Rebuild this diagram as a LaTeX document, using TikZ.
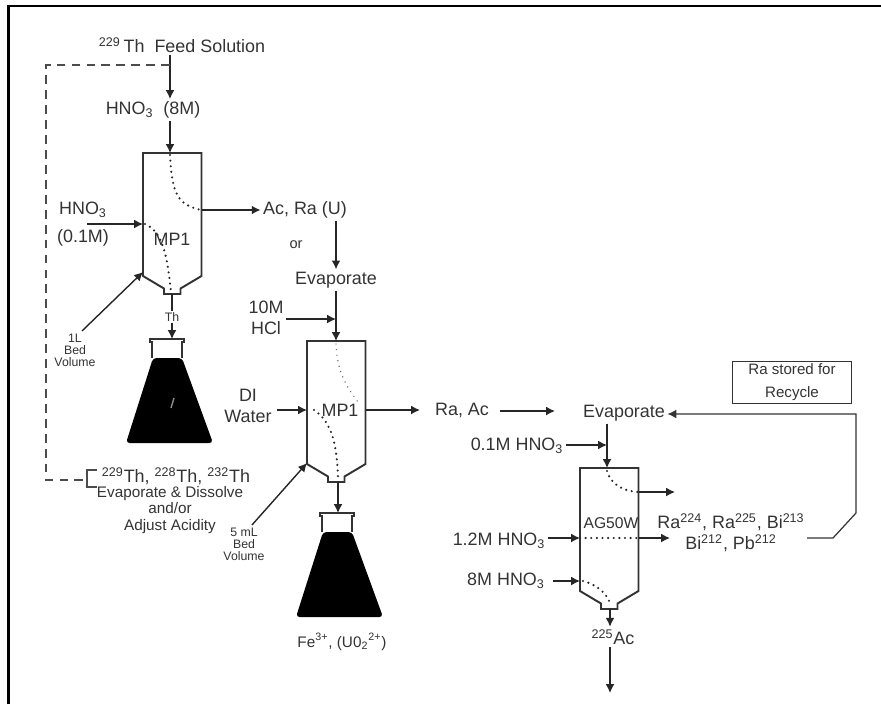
\documentclass[tikz,border=0pt]{standalone}
\usepackage{fontspec}
\setmainfont{Liberation Sans}
\usetikzlibrary{arrows.meta}
\tikzset{
  flow/.style={line width=0.8pt, draw=black!85, -{Latex[length=5pt,width=5pt]}},
  wall/.style={line width=1.1pt, draw=black!80},
  trace/.style={line width=1.35pt, line cap=round, dash pattern=on 0pt off 3.2pt, draw=black!85},
  lighttrace/.style={trace, line width=0.8pt, draw=black!65},
  return/.style={line width=0.7pt, draw=black!80},
  recycle/.style={line width=0.6pt, draw=black!70, dash pattern=on 5pt off 3.5pt},
  lbl/.style={inner sep=0pt, outer sep=1.5pt, text=black!80, align=center, font=\fontsize{10.2}{11}\selectfont},
  lblmid/.style={lbl, font=\fontsize{8.7}{9}\selectfont},
  lblsmall/.style={lbl, font=\fontsize{7}{6.9}\selectfont},
}
\begin{document}
\begin{tikzpicture}[x=0.02cm, y=-0.02cm]
  \useasboundingbox (0,0) rectangle (881,704);
  \draw[line width=1.7pt] (8.5,704) -- (8.5,6) -- (881,6);
  \foreach \n/\x/\y/\t/\b/\s in {A/143/153/27/29/119, B/307/341/29/31/122, C/580/468/27/30/119} {
    \draw[wall] (\x,\y) -- ++(58.5,0) -- ++(0,123) -- ++(-21,12.5) -- ++(0,5.5) -- ++(-16.5,0)
      -- ++(0,-5.5) -- ++(-21,-12.5) -- cycle;
    \coordinate (top\n) at ({\x+\t},\y);
    \coordinate (neck\n) at ({\x+\b},{\y+141});
    \coordinate (shoulder\n) at (\x,{\y+\s});
  }
  \foreach \n/\x/\y in {A/167/339, B/337/513} {
    \fill[black, rounded corners=2pt] ({\x-14},{\y+19}) -- ({\x+15},{\y+19}) -- ({\x+46},{\y+104})
      -- ({\x-41},{\y+104}) -- cycle;
    \draw[line width=0.7pt, draw=black!80] ({\x-15},{\y+19}) -- ({\x-15},{\y+3}) -- ({\x-17},{\y+3})
      -- ({\x-17},\y) -- ({\x+17},\y) -- ({\x+17},{\y+3}) -- ({\x+15},{\y+3}) -- ({\x+15},{\y+19});
    \coordinate (mouth\n) at (\x,\y);
  }
  \draw[line width=0.8pt, draw=black!45] (171,408) -- (174,398);

  \node[lbl] (feed) at (182,45) {\textsuperscript{229}\,Th\ \ Feed Solution};
  \node[lbl] (acid8) at (153,110) {HNO\textsubscript{3}\ \ (8M)};
  \node[lbl] (acid01) at (83,224) {HNO\textsubscript{3}\\[4.5pt](0.1M)};
  \node[lbl] (mpA) at (172,239) {MP1};
  \node[lbl] (acra) at (305,210) {Ac, Ra (U)};
  \node[lbl, font=\fontsize{8.3}{9}\selectfont] (orlabel) at (296,245) {or};
  \node[lbl] (evapA) at (336,280) {Evaporate};
  \node[lbl] (hcl) at (266,318) {10M\\[1pt]HCl};
  \node[lblsmall] (bedA) at (75,350) {1L\\Bed\\Volume};
  \node[lblsmall, fill=white, outer sep=0pt, inner sep=1pt] (thlabel) at (172,317) {Th};
  \node[lbl] (isotopes) at (176,476.5) {\textsuperscript{229}Th, \textsuperscript{228}Th, \textsuperscript{232}Th};
  \node[lblmid] (redo) at (170,510) {Evaporate \& Dissolve\\[0.5pt]and/or\\[0.5pt]Adjust Acidity};
  \node[lbl] (diwater) at (248,406) {DI\\[1pt]Water};
  \node[lbl] (mpB) at (340,410) {MP1};
  \node[lblsmall] (bedB) at (244,544) {5 mL\\Bed\\Volume};
  \node[lblmid] (iron) at (342,642) {Fe\textsuperscript{3+}, (U0\textsubscript{2}\textsuperscript{2+})};
  \node[lbl] (raac) at (462,410) {Ra, Ac};
  \node[lbl] (evapB) at (624,413) {Evaporate};
  \node[lbl] (acidC) at (517,446) {0.1M HNO\textsubscript{3}};
  \node[lbl] (acidD) at (499,541) {1.2M HNO\textsubscript{3}};
  \node[lbl] (acidE) at (506,581) {8M HNO\textsubscript{3}};
  \node[lbl, font=\fontsize{8.9}{9}\selectfont] (resin) at (611,523) {AG50W};
  \node[lbl] (waste) at (731,533) {Ra\textsuperscript{224}, Ra\textsuperscript{225}, Bi\textsuperscript{213}\\[1pt]Bi\textsuperscript{212}, Pb\textsuperscript{212}};
  \node[lbl] (actinium) at (613,637) {\textsuperscript{225}Ac};
  \node[wall, lblmid, draw=black!80, line width=0.7pt, font=\fontsize{8.6}{13}\selectfont,
    minimum width=68pt, minimum height=24pt, outer sep=0pt] (store) at (792,382.5) {Ra stored for\\Recycle};

  \coordinate (feedtee) at (170,65);
  \coordinate (bracket) at (87,480);
  \coordinate (outA) at (201.5,210);
  \coordinate (inA) at (143,224);
  \coordinate (inB) at (307,410);
  \coordinate (outB) at (365.5,410);
  \coordinate (stub) at (420,410);
  \coordinate (joinB) at (336,319);
  \coordinate (joinC) at (607,445);
  \coordinate (outC) at (638.5,492);
  \coordinate (stubC) at (675,492);
  \coordinate (inD) at (580,538);
  \coordinate (outD) at (638.5,538);
  \coordinate (tipD) at (670,538);
  \coordinate (inE) at (580,581);
  \coordinate (tipC) at (555,411);
  \coordinate (bendA) at (856,414);
  \coordinate (bendB) at (856,513);
  \coordinate (bendC) at (833,538);
  \coordinate (product) at (610,693);

  \draw[flow] (feed.south -| topA) -- (acid8.north -| topA);
  \draw[flow] (acid8.south -| topA) -- (topA);
  \draw[flow] (acid01) ++(4,0) -- (inA);
  \draw[flow] (outA) -- (acra.west |- outA);
  \draw[flow] (bedA.north) ++(7,0) -- (shoulderA);
  \draw[line width=0.8pt, draw=black!85] (neckA) -- (thlabel);
  \draw[flow] (thlabel) -- (neckA |- mouthA);
  \draw[flow] (acra.south -| evapA) -- (evapA);
  \draw[flow] (evapA) -- (topB);
  \draw[flow] (hcl.east |- joinB) -- (joinB);
  \draw[flow] (diwater.east |- inB) ++(3,0) -- (inB);
  \draw[flow] (outB) -- (stub);
  \draw[flow] (bedB.north) ++(8,0) -- (shoulderB);
  \draw[flow] (neckB) -- (neckB |- mouthB);
  \draw[flow] (raac.east |- tipC) ++(8,0) -- (tipC);
  \draw[flow] (evapB.south -| topC) -- (topC);
  \draw[flow] (acidC.east |- joinC) -- (joinC);
  \draw[flow] (outC) -- (stubC);
  \draw[flow] (acidD.east |- inD) -- (inD);
  \draw[flow] (outD) -- (tipD);
  \draw[flow] (acidE) ++(47,0) -- (inE);
  \draw[flow] (neckC) -- (actinium.north -| neckC);
  \draw[flow] (actinium.south -| product) -- (product);
  \draw[return, -{Latex[length=5pt,width=5pt]}] (waste.east |- bendC) -- (bendC) -- (bendB) -- (bendA) -- (evapB.east |- bendA);
  \draw[recycle] (feedtee) -- (46,65) -- (46,480) -- (bracket);
  \draw[return, draw=black!70] (97,470) -- (87,470) -- (87,487) -- (97,487);

  \draw[trace] (topA) ++(0,2) .. controls (172,195) and (178,205) .. (outA);
  \draw[trace] (inA) ++(2,0) .. controls (165,232) and (168,265) .. (171,292);
  \draw[lighttrace] (topB) ++(0,3) .. controls (337,370) and (345,385) .. (358,402);
  \draw[trace] (inB) ++(7,0) .. controls (332,422) and (337,445) .. (338,478);
  \draw[trace] (topC) ++(0,3) .. controls (610,482) and (620,491) .. (outC);
  \draw[trace] (inD) -- (outD);
  \draw[trace] (inE) ++(3,0) .. controls (595,584) and (606,592) .. (610,603);
\end{tikzpicture}
\end{document}
